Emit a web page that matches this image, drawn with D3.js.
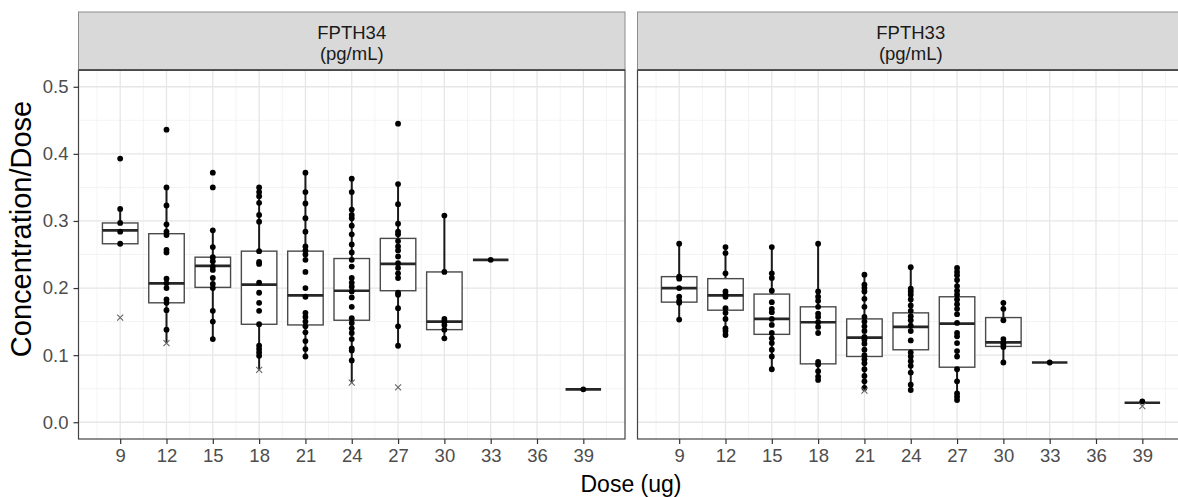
<!DOCTYPE html>
<html>
<head>
<meta charset="utf-8">
<script src="https://cdn.jsdelivr.net/npm/d3@7"></script>
<style>
  html, body { margin: 0; padding: 0; background: #fff; overflow: hidden; }
  svg { display: block; font-family: "Liberation Sans", Arial, Helvetica, sans-serif; }
</style>
</head>
<body>
<svg id="chart" width="1178" height="497"></svg>
<script>
// Dose levels (ug) and axis breaks
const doses = [9, 12, 15, 18, 21, 24, 27, 30, 33, 39];
const xTicks = [9, 12, 15, 18, 21, 24, 27, 30, 33, 36, 39];
const yTicks = [0.0, 0.1, 0.2, 0.3, 0.4, 0.5];
const panelNames = ["FPTH34", "FPTH33"];
const panelUnit = "(pg/mL)";

// FPTH34: box statistics per dose
const q1_34  = [0.266, 0.178, 0.201, 0.146, 0.145, 0.152, 0.196, 0.138, 0.242, 0.049];
const med_34 = [0.286, 0.207, 0.233, 0.205, 0.189, 0.196, 0.236, 0.150, 0.242, 0.049];
const q3_34  = [0.297, 0.281, 0.246, 0.255, 0.255, 0.244, 0.274, 0.224, 0.242, 0.049];
const lo_34  = [0.266, 0.118, 0.124, 0.078, 0.098, 0.059, 0.114, 0.125, 0.242, 0.049];
const hi_34  = [0.318, 0.350, 0.286, 0.350, 0.372, 0.363, 0.355, 0.308, 0.242, 0.049];
// FPTH34: individual observations per dose
const pts_34 = [
  [0.393, 0.318, 0.297, 0.284, 0.266],
  [0.436, 0.350, 0.323, 0.295, 0.284, 0.279, 0.257, 0.253, 0.214, 0.207, 0.200, 0.183, 0.178, 0.167, 0.138],
  [0.372, 0.350, 0.286, 0.261, 0.246, 0.240, 0.232, 0.227, 0.215, 0.206, 0.200, 0.166, 0.150, 0.124],
  [0.350, 0.343, 0.337, 0.327, 0.309, 0.299, 0.255, 0.239, 0.236, 0.208, 0.193, 0.178, 0.166, 0.146, 0.114, 0.109, 0.104, 0.099],
  [0.372, 0.343, 0.326, 0.304, 0.284, 0.262, 0.256, 0.250, 0.242, 0.224, 0.200, 0.187, 0.163, 0.157, 0.150, 0.143, 0.134, 0.121, 0.109, 0.098],
  [0.363, 0.343, 0.317, 0.309, 0.304, 0.293, 0.280, 0.265, 0.253, 0.242, 0.232, 0.215, 0.208, 0.202, 0.195, 0.186, 0.172, 0.155, 0.148, 0.140, 0.133, 0.124, 0.110, 0.107, 0.092],
  [0.445, 0.355, 0.325, 0.296, 0.284, 0.280, 0.270, 0.262, 0.256, 0.247, 0.237, 0.230, 0.222, 0.215, 0.193, 0.190, 0.170, 0.143, 0.114],
  [0.308, 0.224, 0.154, 0.150, 0.145, 0.138, 0.125],
  [0.242],
  [0.049]
];
// FPTH34: excluded values (dose, value)
const cross_34 = [[9, 0.156], [12, 0.118], [18, 0.078], [24, 0.059], [27, 0.052]];

// FPTH33: box statistics per dose
const q1_33  = [0.179, 0.167, 0.131, 0.087, 0.098, 0.108, 0.082, 0.113, 0.089, 0.029];
const med_33 = [0.200, 0.189, 0.154, 0.149, 0.126, 0.142, 0.147, 0.119, 0.089, 0.029];
const q3_33  = [0.217, 0.214, 0.191, 0.172, 0.154, 0.163, 0.187, 0.156, 0.089, 0.029];
const lo_33  = [0.153, 0.130, 0.079, 0.063, 0.051, 0.048, 0.033, 0.089, 0.089, 0.029];
const hi_33  = [0.266, 0.261, 0.261, 0.266, 0.220, 0.231, 0.230, 0.178, 0.089, 0.029];
// FPTH33: individual observations per dose
const pts_33 = [
  [0.266, 0.217, 0.214, 0.200, 0.187, 0.181, 0.178, 0.153],
  [0.261, 0.252, 0.222, 0.195, 0.190, 0.187, 0.170, 0.163, 0.154, 0.140, 0.136, 0.130],
  [0.261, 0.222, 0.215, 0.196, 0.179, 0.169, 0.164, 0.154, 0.145, 0.133, 0.125, 0.118, 0.108, 0.098, 0.079],
  [0.266, 0.195, 0.187, 0.181, 0.172, 0.162, 0.157, 0.149, 0.142, 0.133, 0.090, 0.086, 0.076, 0.068, 0.063],
  [0.220, 0.205, 0.200, 0.195, 0.184, 0.172, 0.157, 0.150, 0.143, 0.136, 0.127, 0.123, 0.117, 0.108, 0.100, 0.094, 0.088, 0.079, 0.069, 0.061, 0.051],
  [0.231, 0.199, 0.195, 0.190, 0.183, 0.174, 0.166, 0.158, 0.152, 0.144, 0.136, 0.122, 0.104, 0.098, 0.091, 0.084, 0.074, 0.056, 0.048],
  [0.230, 0.224, 0.219, 0.212, 0.203, 0.196, 0.190, 0.183, 0.176, 0.169, 0.161, 0.148, 0.133, 0.128, 0.118, 0.106, 0.098, 0.079, 0.061, 0.043, 0.038, 0.033],
  [0.178, 0.169, 0.152, 0.124, 0.119, 0.116, 0.112, 0.089],
  [0.089],
  [0.031]
];
// FPTH33: excluded values (dose, value)
const cross_33 = [[21, 0.047], [39, 0.024]];

const boxWidth = 2.3; // in dose units

const panels = [
  { name: panelNames[0], q1: q1_34, med: med_34, q3: q3_34, lo: lo_34, hi: hi_34, pts: pts_34, cross: cross_34 },
  { name: panelNames[1], q1: q1_33, med: med_33, q3: q3_33, lo: lo_33, hi: hi_33, pts: pts_33, cross: cross_33 }
];

const svg = d3.select("#chart");
const panelW = 546.5, panelTop = 70, panelBottom = 439, stripTop = 12;
const panelLefts = [78.5, 637.5];

const y = d3.scaleLinear().domain([-0.025, 0.525]).range([panelBottom, panelTop]);
const yMinor = [0.05, 0.15, 0.25, 0.35, 0.45];
const xMinor = d3.range(7.5, 41, 3);

panels.forEach((p, pi) => {
  const left = panelLefts[pi];
  const x = d3.scaleLinear().domain([6.3, 41.7]).range([left, left + panelW]);
  const g = svg.append("g");

  // panel background and grid
  g.append("rect").attr("x", left).attr("y", panelTop).attr("width", panelW)
    .attr("height", panelBottom - panelTop).attr("fill", "#fff");
  g.selectAll(".ymin").data(yMinor).join("line")
    .attr("x1", left).attr("x2", left + panelW)
    .attr("y1", d => y(d)).attr("y2", d => y(d))
    .attr("stroke", "#F2F2F2").attr("stroke-width", 0.9);
  g.selectAll(".xmin").data(xMinor).join("line")
    .attr("x1", d => x(d)).attr("x2", d => x(d))
    .attr("y1", panelTop).attr("y2", panelBottom)
    .attr("stroke", "#F2F2F2").attr("stroke-width", 0.9);
  g.selectAll(".ymaj").data(yTicks).join("line")
    .attr("x1", left).attr("x2", left + panelW)
    .attr("y1", d => y(d)).attr("y2", d => y(d))
    .attr("stroke", "#E6E6E6").attr("stroke-width", 1.3);
  g.selectAll(".xmaj").data(xTicks).join("line")
    .attr("x1", d => x(d)).attr("x2", d => x(d))
    .attr("y1", panelTop).attr("y2", panelBottom)
    .attr("stroke", "#E6E6E6").attr("stroke-width", 1.3);

  // whiskers
  g.selectAll(".whisker").data(doses).join("line")
    .attr("x1", d => x(d)).attr("x2", d => x(d))
    .attr("y1", (d, i) => y(p.lo[i])).attr("y2", (d, i) => y(p.hi[i]))
    .attr("stroke", "#1A1A1A").attr("stroke-width", 2);
  // boxes
  g.selectAll(".box").data(doses).join("rect")
    .attr("x", d => x(d - boxWidth / 2))
    .attr("width", d => x(d + boxWidth / 2) - x(d - boxWidth / 2))
    .attr("y", (d, i) => y(p.q3[i]))
    .attr("height", (d, i) => y(p.q1[i]) - y(p.q3[i]))
    .attr("fill", "#fff").attr("stroke", "#4A4A4A").attr("stroke-width", 1.4);
  // medians
  g.selectAll(".median").data(doses).join("line")
    .attr("x1", d => x(d - boxWidth / 2)).attr("x2", d => x(d + boxWidth / 2))
    .attr("y1", (d, i) => y(p.med[i])).attr("y2", (d, i) => y(p.med[i]))
    .attr("stroke", "#262626").attr("stroke-width", 2.7);

  // observations
  const flat = [];
  p.pts.forEach((arr, i) => arr.forEach(v => flat.push([doses[i], v])));
  g.selectAll(".pt").data(flat).join("circle")
    .attr("cx", d => x(d[0])).attr("cy", d => y(d[1])).attr("r", 2.9)
    .attr("fill", "#000");

  // excluded values drawn as crosses
  const cs = 3;
  g.selectAll(".cross").data(p.cross).join("path")
    .attr("d", d => {
      const cx = x(d[0]), cy = y(d[1]);
      return `M${cx - cs},${cy - cs}L${cx + cs},${cy + cs}M${cx - cs},${cy + cs}L${cx + cs},${cy - cs}`;
    })
    .attr("stroke", "#666").attr("stroke-width", 1.1).attr("fill", "none");

  // panel border
  g.append("rect").attr("x", left).attr("y", panelTop).attr("width", panelW)
    .attr("height", panelBottom - panelTop).attr("fill", "none")
    .attr("stroke", "#444").attr("stroke-width", 1.2);

  // strip
  g.append("rect").attr("x", left).attr("y", stripTop).attr("width", panelW)
    .attr("height", panelTop - stripTop).attr("fill", "#D9D9D9")
    .attr("stroke", "#8C8C8C").attr("stroke-width", 1);
  g.append("line").attr("x1", left).attr("x2", left + panelW)
    .attr("y1", panelTop).attr("y2", panelTop).attr("stroke", "#333").attr("stroke-width", 1.4);
  const st = g.append("text").attr("x", left + panelW / 2).attr("text-anchor", "middle")
    .attr("font-size", 18.5).attr("fill", "#1A1A1A");
  st.append("tspan").attr("x", left + panelW / 2).attr("y", 38.5).text(p.name);
  st.append("tspan").attr("x", left + panelW / 2).attr("y", 59.5).text(panelUnit);

  // x axis
  const xAxis = d3.axisBottom(x).tickValues(xTicks).tickSize(5).tickPadding(5)
    .tickFormat(d3.format("d"));
  const ax = g.append("g").attr("transform", `translate(0,${panelBottom})`).call(xAxis);
  ax.select(".domain").remove();
  ax.selectAll(".tick line").attr("stroke", "#333").attr("stroke-width", 1.2);
  ax.selectAll(".tick text").attr("font-size", 18.5).attr("fill", "#4D4D4D")
    .attr("font-family", "Liberation Sans, Arial, sans-serif");

  // y axis (left panel only)
  if (pi === 0) {
    const yAxis = d3.axisLeft(y).tickValues(yTicks).tickSize(5).tickPadding(5)
      .tickFormat(d3.format(".1f"));
    const ay = g.append("g").attr("transform", `translate(${left},0)`).call(yAxis);
    ay.select(".domain").remove();
    ay.selectAll(".tick line").attr("stroke", "#333").attr("stroke-width", 1.2);
    ay.selectAll(".tick text").attr("font-size", 18.5).attr("fill", "#4D4D4D")
      .attr("font-family", "Liberation Sans, Arial, sans-serif");
  }
});

// axis titles
svg.append("text").attr("x", 631).attr("y", 492).attr("text-anchor", "middle")
  .attr("font-size", 23).attr("fill", "#000").text("Dose (ug)");
svg.append("text").attr("transform", "translate(31,229) rotate(-90)")
  .attr("text-anchor", "middle").attr("font-size", 29).attr("fill", "#000")
  .text("Concentration/Dose");
</script>
</body>
</html>
